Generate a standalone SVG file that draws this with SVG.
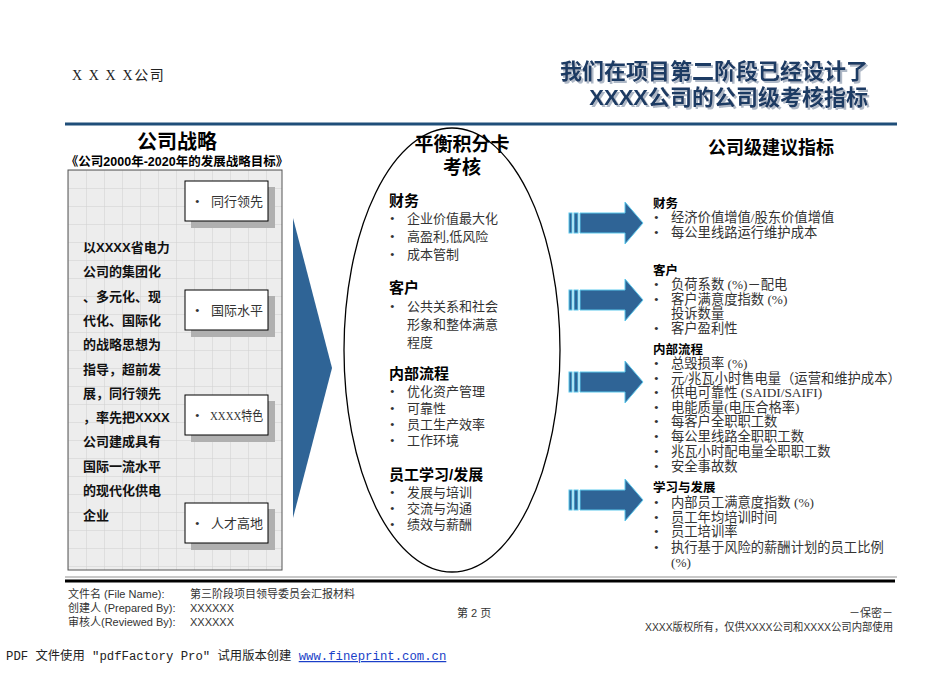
<svg xmlns="http://www.w3.org/2000/svg" width="950" height="673" viewBox="0 0 950 673">
<style>
.ser{font-family:"Liberation Serif","Noto Sans CJK SC",serif}
.title{font-family:"Liberation Sans","Noto Sans CJK SC",sans-serif;font-weight:bold;font-size:22px;fill:#1F3B64;text-anchor:end}
.head{font-family:"Liberation Sans","Noto Sans CJK SC",sans-serif;font-weight:bold;fill:#000}
.lt{font-family:"Liberation Sans","Noto Sans CJK SC",sans-serif;font-weight:bold;font-size:13px;fill:#111}
.it{font-family:"Liberation Serif","Noto Sans CJK SC",serif;font-size:13px;fill:#333}
.sec{font-family:"Liberation Sans","Noto Sans CJK SC",sans-serif;font-weight:bold;font-size:15px;fill:#000}
.rsec{font-family:"Liberation Sans","Noto Sans CJK SC",sans-serif;font-weight:bold;font-size:12.5px;fill:#000}
.rit{font-family:"Liberation Serif","Noto Sans CJK SC",serif;font-size:13.3px;fill:#333}
.foot{font-family:"Liberation Sans Narrow","Liberation Sans","Noto Sans CJK SC",sans-serif;font-size:11px;fill:#333}
.sbox{fill:#fff;stroke:#000;stroke-width:1}
.shd{fill:#B0B0B0}
.arr{fill:#2F6496;stroke:#5BC8EC;stroke-width:1}
</style>
<defs>
<filter id="tshadow" x="-5%" y="-20%" width="110%" height="150%">
<feDropShadow dx="2" dy="2" stdDeviation="0.6" flood-color="#9AA6B8" flood-opacity="0.8"/>
</filter>
<pattern id="grid" width="18" height="18" patternUnits="userSpaceOnUse" x="68" y="170">
<rect width="18" height="18" fill="#EDEDED"/>
<path d="M0 0H18M0 0V18" stroke="#D0D0D0" stroke-width="1" fill="none"/>
</pattern>
<g id="arrow">
<rect x="569" y="-10" width="3" height="20" class="arr"/>
<rect x="574" y="-10" width="4" height="20" class="arr"/>
<path d="M580 -10H625V-21L643 0L625 21V10H580Z" class="arr"/>
</g>
</defs>
<rect width="950" height="673" fill="#fff"/>

<g id="header">
<text x="72" y="80" class="ser" font-size="14" fill="#222" letter-spacing="1.6">X X X X公司</text>
<g filter="url(#tshadow)">
<text x="868" y="79" class="title">我们在项目第二阶段已经设计了</text>
<text x="868" y="105" class="title">XXXX公司的公司级考核指标</text>
</g>
<line x1="65" y1="124" x2="897" y2="124" stroke="#1F4E79" stroke-width="3"/>
</g>

<g id="strategy">
<text x="177" y="149" class="head" font-size="20" text-anchor="middle">公司战略</text>
<text x="177" y="166" class="head" font-size="12.5" text-anchor="middle">《公司2000年-2020年的发展战略目标》</text>
<rect x="68" y="170" width="214" height="400" fill="url(#grid)" stroke="#555" stroke-width="1"/>
<g class="lt">
<text x="83" y="252">以XXXX省电力</text>
<text x="83" y="276">公司的集团化</text>
<text x="83" y="301">、多元化、现</text>
<text x="83" y="325">代化、国际化</text>
<text x="83" y="349">的战略思想为</text>
<text x="83" y="374">指导，超前发</text>
<text x="83" y="398">展，同行领先</text>
<text x="83" y="422">，率先把XXXX</text>
<text x="83" y="446">公司建成具有</text>
<text x="83" y="471">国际一流水平</text>
<text x="83" y="495">的现代化供电</text>
<text x="83" y="520">企业</text>
</g>
</g>

<g id="goal1">
<rect x="191" y="187" width="84" height="41" class="shd"/>
<rect x="185" y="181" width="83" height="40" class="sbox"/>
<text x="195" y="206" class="it">•</text>
<text x="211" y="206" class="it">同行领先</text>
</g>
<g id="goal2">
<rect x="191" y="296" width="84" height="41" class="shd"/>
<rect x="185" y="290" width="83" height="40" class="sbox"/>
<text x="195" y="315" class="it">•</text>
<text x="211" y="315" class="it">国际水平</text>
</g>
<g id="goal3">
<rect x="191" y="401" width="84" height="41" class="shd"/>
<rect x="185" y="395" width="83" height="40" class="sbox"/>
<text x="195" y="420" class="it">•</text>
<text x="210" y="420" class="it" textLength="53" lengthAdjust="spacingAndGlyphs">XXXX特色</text>
</g>
<g id="goal4">
<rect x="191" y="509" width="84" height="41" class="shd"/>
<rect x="185" y="503" width="83" height="40" class="sbox"/>
<text x="195" y="528" class="it">•</text>
<text x="211" y="528" class="it">人才高地</text>
</g>

<g id="bigArrow">
<path d="M293 218L332 368L293 518Z" fill="#2F6496"/>
</g>

<g id="scorecard">
<ellipse cx="452" cy="350" rx="108" ry="222" fill="none" stroke="#000" stroke-width="1.3"/>
<text x="462" y="151" class="head" font-size="19" text-anchor="middle">平衡积分卡</text>
<text x="462" y="174" class="head" font-size="19" text-anchor="middle">考核</text>
<text x="389" y="206" class="sec">财务</text>
<g class="it">
<text x="390" y="223">•</text><text x="407" y="223">企业价值最大化</text>
<text x="390" y="241">•</text><text x="407" y="241">高盈利,低风险</text>
<text x="390" y="259">•</text><text x="407" y="259">成本管制</text>
</g>
<text x="389" y="293" class="sec">客户</text>
<g class="it">
<text x="390" y="311">•</text><text x="407" y="311">公共关系和社会</text>
<text x="407" y="329">形象和整体满意</text>
<text x="407" y="347">程度</text>
</g>
<text x="389" y="379" class="sec">内部流程</text>
<g class="it">
<text x="390" y="396">•</text><text x="407" y="396">优化资产管理</text>
<text x="390" y="413">•</text><text x="407" y="413">可靠性</text>
<text x="390" y="429">•</text><text x="407" y="429">员工生产效率</text>
<text x="390" y="445">•</text><text x="407" y="445">工作环境</text>
</g>
<text x="389" y="480" class="sec">员工学习/发展</text>
<g class="it">
<text x="390" y="497">•</text><text x="407" y="497">发展与培训</text>
<text x="390" y="513">•</text><text x="407" y="513">交流与沟通</text>
<text x="390" y="529">•</text><text x="407" y="529">绩效与薪酬</text>
</g>
</g>

<g id="connectors">
<use href="#arrow" transform="translate(0,223)"/>
<use href="#arrow" transform="translate(0,300)"/>
<use href="#arrow" transform="translate(0,382)"/>
<use href="#arrow" transform="translate(0,500)"/>
</g>

<g id="indicators">
<text x="771" y="154" class="head" font-size="18" text-anchor="middle">公司级建议指标</text>
<text x="653" y="208" class="rsec">财务</text>
<g class="rit">
<text x="654" y="222">•</text><text x="671" y="222">经济价值增值/股东价值增值</text>
<text x="654" y="237">•</text><text x="671" y="237">每公里线路运行维护成本</text>
</g>
<text x="653" y="275" class="rsec">客户</text>
<g class="rit">
<text x="654" y="289">•</text><text x="671" y="289">负荷系数 (%)－配电</text>
<text x="654" y="304">•</text><text x="671" y="304">客户满意度指数 (%)</text>
<text x="671" y="318">投诉数量</text>
<text x="654" y="333">•</text><text x="671" y="333">客户盈利性</text>
</g>
<text x="653" y="354" class="rsec">内部流程</text>
<g class="rit">
<text x="654" y="368">•</text><text x="671" y="368">总毁损率 (%)</text>
<text x="654" y="383">•</text><text x="671" y="383">元/兆瓦小时售电量（运营和维护成本）</text>
<text x="654" y="397">•</text><text x="671" y="397">供电可靠性 (SAIDI/SAIFI)</text>
<text x="654" y="412">•</text><text x="671" y="412">电能质量(电压合格率)</text>
<text x="654" y="426">•</text><text x="671" y="426">每客户全职职工数</text>
<text x="654" y="441">•</text><text x="671" y="441">每公里线路全职职工数</text>
<text x="654" y="456">•</text><text x="671" y="456">兆瓦小时配电量全职职工数</text>
<text x="654" y="471">•</text><text x="671" y="471">安全事故数</text>
</g>
<text x="653" y="492" class="rsec">学习与发展</text>
<g class="rit">
<text x="654" y="507">•</text><text x="671" y="507">内部员工满意度指数 (%)</text>
<text x="654" y="522">•</text><text x="671" y="522">员工年均培训时间</text>
<text x="654" y="536">•</text><text x="671" y="536">员工培训率</text>
<text x="654" y="552">•</text><text x="671" y="552">执行基于风险的薪酬计划的员工比例</text>
<text x="671" y="567">(%)</text>
</g>
</g>

<g id="footer">
<line x1="65" y1="577" x2="897" y2="577" stroke="#C8C8C8" stroke-width="2"/>
<line x1="65" y1="581" x2="895" y2="581" stroke="#000" stroke-width="3"/>
<text x="68" y="598" class="foot">文件名 (File Name):</text>
<text x="190" y="598" class="foot">第三阶段项目领导委员会汇报材料</text>
<text x="68" y="612" class="foot">创建人 (Prepared By):</text>
<text x="190" y="612" class="foot">XXXXXX</text>
<text x="68" y="626" class="foot">审核人(Reviewed By):</text>
<text x="190" y="626" class="foot">XXXXXX</text>
<text x="457" y="617" class="foot">第 2 页</text>
<text x="893" y="617" class="foot" text-anchor="end">－保密－</text>
<text x="645" y="631" class="foot" textLength="248" lengthAdjust="spacingAndGlyphs">XXXX版权所有，仅供XXXX公司和XXXX公司内部使用</text>
<text x="6" y="660" font-family="'Liberation Mono','Noto Sans CJK SC',monospace" font-size="12.3" fill="#222">PDF 文件使用 "pdfFactory Pro" 试用版本创建 <tspan fill="#1A3FC8" text-decoration="underline">www.fineprint.com.cn</tspan></text>
</g>
</svg>
